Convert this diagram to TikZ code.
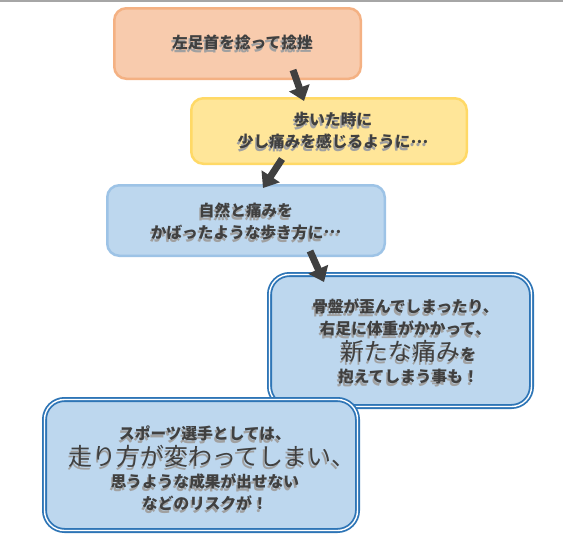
\documentclass[tikz,border=0pt]{standalone}
\usepackage{fontspec}
\setmainfont{Noto Sans CJK JP}
\usetikzlibrary{arrows.meta}

\definecolor{orangefill}{HTML}{F8CBAD}
\definecolor{orangeline}{HTML}{F4B183}
\definecolor{yellowfill}{HTML}{FFE699}
\definecolor{yellowline}{HTML}{FFD966}
\definecolor{bluefill}{HTML}{BDD7EE}
\definecolor{blueline}{HTML}{9DC3E6}
\definecolor{darkblue}{HTML}{2E75B6}
\definecolor{textgray}{HTML}{404040}
\definecolor{shadegray}{HTML}{A0A0A0}

% text line with a soft shadow under it, nudged right
\newcommand{\shline}[2][8pt]{\hspace*{#1}\rlap{\hspace{-1.5pt}\raisebox{-3pt}{\textcolor{shadegray}{#2}}}#2}
\newcommand{\bigtxt}[1]{{\mdseries\fontsize{24}{27}\selectfont #1}}
\newcommand{\middots}{\raisebox{4.5pt}{…}}
\newcommand{\topgap}[1]{\rule{0pt}{#1}}

\begin{document}
\begin{tikzpicture}[x=1pt, y=-1pt, >={Triangle[width=21pt,length=14pt]},
	box/.style={rounded corners=12pt, line width=2.5pt, align=center, inner sep=0pt, text=textgray, font=\bfseries\fontsize{15.7}{22}\selectfont},
	orange box/.style={box, draw=orangeline, fill=orangefill},
	yellow box/.style={box, draw=yellowline, fill=yellowfill},
	blue box/.style={box, draw=blueline, fill=bluefill},
	double box/.style={box, rounded corners=20pt, line width=1.8pt, draw=darkblue, double=white, double distance=1.4pt, fill=bluefill},
	big arrow/.style={->, line width=7pt, draw=textgray}]
	\useasboundingbox (0,0) rectangle (563,549);
	\draw[black!35, line width=1.5pt] (0,0.75) -- (563,0.75);

	\node[orange box, minimum width=246.5pt, minimum height=70.5pt] (sprain) at (237.5,43.5) {\shline[10pt]{左足首を捻って捻挫}};
	\node[yellow box, minimum width=275.5pt, minimum height=65.5pt] (pain) at (329,131) {\topgap{16pt}\shline{歩いた時に}\\\shline{少し痛みを感じるように\middots}};
	\node[blue box, minimum width=277.5pt, minimum height=70.5pt] (gait) at (246,220.5) {\topgap{18pt}\shline[0pt]{自然と痛みを}\\\shline[0pt]{かばったような歩き方に\middots}};
	\node[double box, minimum width=262pt, minimum height=132pt] (pelvis) at (400.5,340.5) {\topgap{18pt}\shline[10pt]{骨盤が歪んでしまったり、}\\\shline[10pt]{右足に体重がかかって、}\\\shline[16pt]{\bigtxt{新たな痛み}を}\\\shline[16pt]{抱えてしまう事も！}};
	\node[double box, minimum width=313pt, minimum height=131pt] (risk) at (201,465) {\topgap{24pt}\shline{スポーツ選手としては、}\\\shline[22pt]{\bigtxt{走り方が変わってしまい、}}\\\shline{思うような成果が出せない}\\\shline{などのリスクが！}};

	\draw[big arrow] ([shift={(55.5,26.5)}]sprain.center) -- ([shift={(-25,-30)}]pain.center);
	\draw[big arrow] ([shift={(-47,28)}]pain.center) -- ([shift={(17,-32.5)}]gait.center);
	\draw[big arrow] ([shift={(64,30.5)}]gait.center) -- ([shift={(-76.5,-58.5)}]pelvis.center);
\end{tikzpicture}
\end{document}
